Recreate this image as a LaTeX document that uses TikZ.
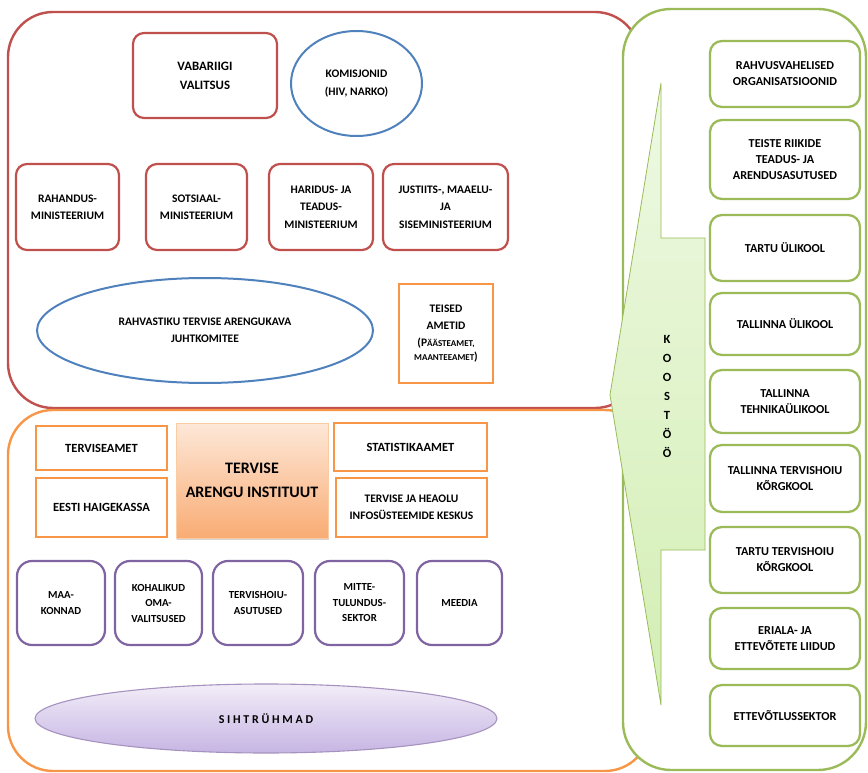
\documentclass[tikz,border=0pt]{standalone}
\usepackage{fontspec}
\setmainfont{Carlito}
\usetikzlibrary{shapes.geometric,shadows}

\definecolor{kred}{HTML}{C0504D}
\definecolor{kblue}{HTML}{4F81BD}
\definecolor{korange}{HTML}{F79646}
\definecolor{kpurple}{HTML}{8064A2}
\definecolor{kgreen}{HTML}{9BBB59}
\definecolor{taitop}{HTML}{FDE8D8}
\definecolor{taibot}{HTML}{F9AC74}
\definecolor{sihttop}{HTML}{F2EDF8}
\definecolor{sihtbot}{HTML}{C6B5E3}
\definecolor{nooltop}{HTML}{EEF9E3}
\definecolor{noolbot}{HTML}{D3EEB4}

\tikzset{
  every node/.style={align=center, inner sep=0pt, text=black},
  redbox/.style={draw=kred, line width=2.2pt, rounded corners=11pt, fill=white,
    font=\bfseries\fontsize{11.5}{17.3}\selectfont},
  blueoval/.style={ellipse, draw=kblue, line width=2pt, fill=white,
    font=\bfseries\fontsize{11.5}{17.5}\selectfont},
  orangebox/.style={draw=korange, line width=2.3pt, fill=white,
    font=\bfseries\fontsize{12.5}{17}\selectfont},
  taibox/.style={draw=korange!50, line width=0.6pt, top color=taitop, bottom color=taibot,
    drop shadow={shadow xshift=1pt, shadow yshift=-2pt, opacity=0.35},
    font=\bfseries\fontsize{16}{24}\selectfont},
  purplebox/.style={draw=kpurple, line width=2.2pt, rounded corners=15pt, fill=white,
    minimum height=84, font=\bfseries\fontsize{10.8}{15.5}\selectfont},
  sihtoval/.style={ellipse, draw=kpurple!70, line width=1.1pt, top color=sihttop, bottom color=sihtbot,
    font=\bfseries\fontsize{12}{16}\selectfont},
  greenbox/.style={draw=kgreen, line width=2.3pt, rounded corners=12pt, fill=white,
    minimum width=150, font=\bfseries\fontsize{12.2}{16}\selectfont},
  frame/.style={line width=2.4pt, rounded corners=45pt}
}

\begin{document}
\begin{tikzpicture}[x=1pt, y=-1pt]
\useasboundingbox (0,0) rectangle (868,773);

% suured raamid
\draw[frame, draw=kred] (8,12) rectangle (640,408);
\draw[frame, draw=korange] (8,410) rectangle (650,771);

% valitsus ja ministeeriumid
\node[redbox, minimum width=144, minimum height=85, font=\bfseries\fontsize{12.8}{19}\selectfont] (valitsus) at (205,75.5) {VABARIIGI\\VALITSUS};
\node[blueoval, minimum width=131, minimum height=105] (komisjonid) at (356.5,83.5) {KOMISJONID\\(HIV, NARKO)};

\foreach \x/\w/\nm/\txt in {67.5/103/rahandus/{RAHANDUS-\\MINISTEERIUM},
    196.5/101/sotsiaal/{SOTSIAAL-\\MINISTEERIUM},
    321/104/haridus/{HARIDUS- JA\\TEADUS-\\MINISTEERIUM},
    445.5/125/justiits/{JUSTIITS-, MAAELU-\\JA\\SISEMINISTEERIUM}}
  \node[redbox, minimum width=\w, minimum height=86] (\nm) at (\x,207) {\txt};

\node[blueoval, minimum width=336, minimum height=105] (juhtkomitee) at (205,330.5) {RAHVASTIKU TERVISE ARENGUKAVA\\JUHTKOMITEE};
\node[orangebox, minimum width=94, minimum height=99, font=\bfseries\fontsize{11.5}{17}\selectfont] (teised) at (446,333.5)
  {TEISED\\AMETID\\{(P\fontsize{9}{11}\selectfont ÄÄSTEAMET,}\\[-3pt]{\fontsize{9}{11}\selectfont MAANTEEAMET})};

% ametid
\node[orangebox, minimum width=131, minimum height=44] (terviseamet) at (101.5,448) {TERVISEAMET};
\node[orangebox, minimum width=131, minimum height=59] (haigekassa) at (101.5,507.5) {EESTI HAIGEKASSA};
\node[taibox, minimum width=152, minimum height=115] (tai) at (252,480.5) {TERVISE\\ARENGU INSTITUUT};
\node[orangebox, minimum width=153, minimum height=48] (statistika) at (410.5,447) {STATISTIKAAMET};
\node[orangebox, minimum width=151, minimum height=59, font=\bfseries\fontsize{11.5}{16.5}\selectfont] (infosys) at (411.5,507.5) {TERVISE JA HEAOLU\\INFOSÜSTEEMIDE KESKUS};

\foreach \x/\w/\nm/\txt in {61/88/maakonnad/{MAA-\\KONNAD},
    158.5/87/kohalikud/{KOHALIKUD\\OMA-\\VALITSUSED},
    258/90/tervishoiu/{TERVISHOIU-\\ASUTUSED},
    359.5/89/mitte/{MITTE-\\TULUNDUS-\\SEKTOR},
    459.5/85/meedia/{MEEDIA}}
  \node[purplebox, minimum width=\w] (\nm) at (\x,603) {\txt};

\node[sihtoval, minimum width=462, minimum height=69] (sihtryhmad) at (266,718.5) {S I H T R Ü H M A D};

% koostöö
\draw[frame, draw=kgreen, fill=white, rounded corners=48pt] (623,9) rectangle (866,770);
\draw[draw=kgreen, line width=0.8pt, top color=nooltop, bottom color=noolbot]
  (661,83) -- (661,238) -- (705,238) -- (705,550) -- (661,550) -- (661,705) -- (610,395) -- cycle;
\node[font=\bfseries\fontsize{12.5}{19}\selectfont] (koostoo) at (667,396) {K\\O\\O\\S\\T\\Ö\\Ö};

\foreach \y/\h/\nm/\txt in {74/66/rahvus/{RAHVUSVAHELISED\\ORGANISATSIOONID},
    159.5/79/teisteriigid/{TEISTE RIIKIDE\\TEADUS- JA\\ARENDUSASUTUSED},
    248/66/tartuyl/{TARTU ÜLIKOOL},
    324/62/tallinnayl/{TALLINNA ÜLIKOOL},
    401.5/63/ttu/{TALLINNA\\TEHNIKAÜLIKOOL},
    478.5/67/tallinnatk/{TALLINNA TERVISHOIU\\KÕRGKOOL},
    560/66/tartutk/{TARTU TERVISHOIU\\KÕRGKOOL},
    638.5/61/liidud/{ERIALA- JA\\ETTEVÕTETE LIIDUD},
    715.5/61/ettevotlus/{ETTEVÕTLUSSEKTOR}}
  \node[greenbox, minimum height=\h] (\nm) at (785,\y) {\txt};
\end{tikzpicture}
\end{document}
